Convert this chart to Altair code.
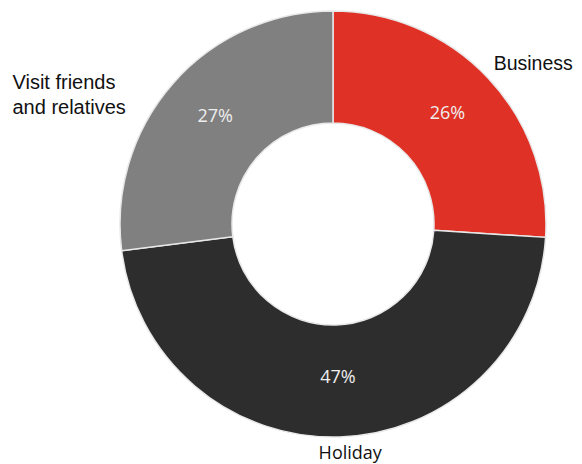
import altair as alt
import pandas as pd

categories = ["Business", "Holiday", "Visit friends and relatives"]
shares = [26, 47, 27]
pct_labels = ["26%", "47%", "27%"]
name_lines = [["Business"], ["Holiday"], ["Visit friends", "and relatives"]]
colors = ["#E03126", "#2D2D2D", "#808080"]

df = pd.DataFrame({
    "category": categories,
    "share": shares,
    "pct": pct_labels,
    "order": list(range(len(categories))),
    "name": name_lines,
})

theta_scale = alt.Scale(domain=[0, sum(shares)])

base = alt.Chart(df).transform_stack(
    stack="share", groupby=[], as_=["t0", "t1"], sort=[alt.SortField("order", order="ascending")]
).transform_calculate(mid="(datum.t0 + datum.t1) / 2")

arcs = base.mark_arc(outerRadius=213, innerRadius=101, stroke="#e8e8e8", strokeWidth=1.5).encode(
    theta=alt.Theta("t0:Q", scale=theta_scale, stack=None),
    theta2="t1:Q",
    color=alt.Color("category:N", scale=alt.Scale(domain=categories, range=colors), legend=None),
)

mid_theta = alt.Theta("mid:Q", scale=theta_scale, stack=None)

pct = base.mark_text(radius=157, font="Open Sans", fontSize=18, color="#eeeeee", dy=-3).encode(
    theta=mid_theta, text="pct:N"
)

lab_business = base.mark_text(radius=250, font="Liberation Sans", fontSize=19.5, color="#111111",
                              align="center", baseline="middle", dx=18, dy=11).encode(
    theta=mid_theta, text="name:N"
).transform_filter(alt.datum.category == "Business")

lab_holiday = base.mark_text(radius=230, font="Open Sans", fontSize=18, color="#111111",
                             align="center", baseline="middle", dx=10).encode(
    theta=mid_theta, text="name:N"
).transform_filter(alt.datum.category == "Holiday")

lab_vfr = base.mark_text(radius=250, font="Liberation Sans", fontSize=20, color="#111111",
                         align="left", baseline="middle", dx=-133, dy=24, lineHeight=25).encode(
    theta=mid_theta, text="name:N"
).transform_filter(alt.datum.category == "Visit friends and relatives")

chart = alt.layer(arcs, pct, lab_business, lab_holiday, lab_vfr).properties(
    width=482, height=432,
    padding={"left": 84, "top": 0, "right": 0, "bottom": 24},
    autosize=alt.AutoSizeParams(type="none"),
).configure_view(stroke=None)

chart.save("out.html", embed_options={"renderer": "svg", "actions": False})
